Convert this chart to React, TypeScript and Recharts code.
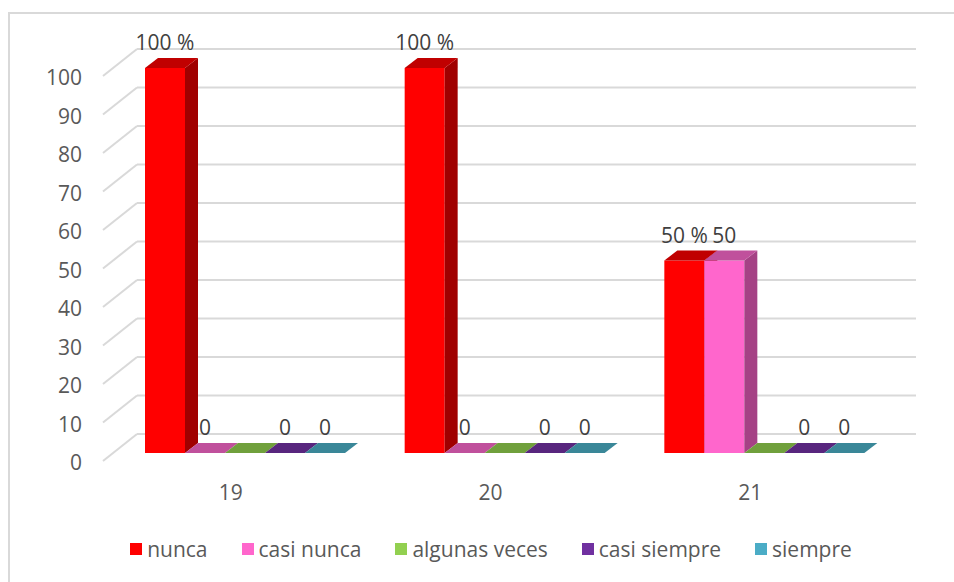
import React from "react"
import { BarChart, Bar, XAxis, YAxis, CartesianGrid, Legend, LabelList } from "recharts"

const categories = ["19", "20", "21"]
const nunca = [100, 100, 50]
const casiNunca = [0, 0, 50]
const algunasVeces = [0, 0, 0]
const casiSiempre = [0, 0, 0]
const siempre = [0, 0, 0]

const nuncaLabels = ["100 %", "100 %", "50 %"]
const casiNuncaLabels = ["0", "0", "50"]
const algunasVecesLabels = ["", "", ""]
const casiSiempreLabels = ["0", "0", "0"]
const siempreLabels = ["0", "0", "0"]

const yTicks = [0, 10, 20, 30, 40, 50, 60, 70, 80, 90, 100]

const series = [
  { key: "nunca", name: "nunca", values: nunca, labels: nuncaLabels, color: "#FF0000", top: "#C00000", side: "#A00000" },
  { key: "casiNunca", name: "casi nunca", values: casiNunca, labels: casiNuncaLabels, color: "#FF66CC", top: "#C0509C", side: "#A54285" },
  { key: "algunasVeces", name: "algunas veces", values: algunasVeces, labels: algunasVecesLabels, color: "#92D050", top: "#70A03C", side: "#5F8A34" },
  { key: "casiSiempre", name: "casi siempre", values: casiSiempre, labels: casiSiempreLabels, color: "#7030A0", top: "#58267E", side: "#4A206A" },
  { key: "siempre", name: "siempre", values: siempre, labels: siempreLabels, color: "#4BACC6", top: "#3A8798", side: "#317283" },
]

const data = categories.map((name, i) => {
  const row: any = { name }
  series.forEach((s) => {
    row[s.key] = s.values[i]
    row[s.key + "Label"] = s.labels[i]
  })
  return row
})

const FONT = "'Open Sans', sans-serif"
const PLOT_LEFT = 115
const PLOT_BOTTOM = 453
// bar depth
const BDX = 13
const BDY = 10
// back wall offset from the bar plane
const WDX = 22
const WDY = 19

function Box3D(props: any) {
  const { x, y, width, height, colors } = props
  const w = width
  const h = height
  const topFace = `${x},${y} ${x + BDX},${y - BDY} ${x + w + BDX},${y - BDY} ${x + w},${y}`
  const sideFace = `${x + w},${y} ${x + w + BDX},${y - BDY} ${x + w + BDX},${y + h - BDY} ${x + w},${y + h}`
  return (
    <g>
      {h > 0 && <rect x={x} y={y} width={w} height={h} fill={colors.color} />}
      {h > 0 && <polygon points={sideFace} fill={colors.side} />}
      <polygon points={topFace} fill={colors.top} />
    </g>
  )
}

function BarLabel(props: any) {
  const vb = props.viewBox || props
  const value = props.value
  if (value === undefined || value === null || value === "") return null
  return (
    <text
      x={vb.x + vb.width / 2}
      y={vb.y - 26}
      textAnchor="middle"
      dominantBaseline="central"
      fill="#404040"
      fontSize={21}
      fontFamily={FONT}
    >
      {value}
    </text>
  )
}

function YTick(props: any) {
  const { y, payload } = props
  return (
    <g>
      <line x1={PLOT_LEFT - 12} y1={y + 8} x2={PLOT_LEFT + WDX} y2={y - WDY} stroke="#d9d9d9" strokeWidth={2} />
      <text x={PLOT_LEFT - 33} y={y + 9} textAnchor="end" dominantBaseline="central" fill="#595959" fontSize={21} fontFamily={FONT}>
        {payload.value}
      </text>
    </g>
  )
}

function XTick(props: any) {
  const { x, payload } = props
  return (
    <text x={x - 14} y={PLOT_BOTTOM + 39} textAnchor="middle" dominantBaseline="central" fill="#595959" fontSize={21} fontFamily={FONT}>
      {payload.value}
    </text>
  )
}

function LegendContent() {
  return (
    <div style={{ display: "flex", justifyContent: "center", alignItems: "center", height: 40, gap: 34, fontFamily: FONT, fontSize: 21, color: "#595959" }}>
      {series.map((s) => (
        <div key={s.key} style={{ display: "flex", alignItems: "center" }}>
          <div style={{ width: 12, height: 12, background: s.color, marginRight: 5 }} />
          <span style={{ lineHeight: "40px", whiteSpace: "nowrap" }}>{s.name}</span>
        </div>
      ))}
    </div>
  )
}

export default function App() {
  return (
    <div>
      <div
        style={{
          position: "absolute",
          left: 8,
          top: 12,
          width: 944,
          height: 568,
          borderTop: "2px solid #d9d9d9",
          borderLeft: "2px solid #d9d9d9",
          background: "#fff",
        }}
      />
      <div style={{ position: "absolute", left: 0, top: 0, width: 954, height: 582 }}>
        <BarChart
          width={954}
          height={582}
          data={data}
          margin={{ top: 68, right: 60, left: 55, bottom: 59 }}
          barGap={0}
          barSize={40}
        >
          <CartesianGrid
            vertical={false}
            horizontal={(p: any) => (
              <line x1={p.x1 + WDX} y1={p.y1 - WDY} x2={p.x2 + WDX} y2={p.y2 - WDY} stroke="#d9d9d9" strokeWidth={2} />
            )}
          />
          <XAxis dataKey="name" axisLine={false} tickLine={false} height={30} tick={<XTick />} interval={0} />
          <YAxis domain={[0, 100]} ticks={yTicks} axisLine={false} tickLine={false} width={60} tick={<YTick />} interval={0} />
          <Legend
            verticalAlign="bottom"
            content={<LegendContent />}
            wrapperStyle={{ top: 529, left: 101, width: 780, height: 40 }}
          />
          {series.map((s) => (
            <Bar
              key={s.key}
              dataKey={s.key}
              name={s.name}
              fill={s.color}
              isAnimationActive={false}
              shape={(p: any) => <Box3D {...p} colors={s} />}
            >
              <LabelList dataKey={s.key + "Label"} content={<BarLabel />} />
            </Bar>
          ))}
        </BarChart>
      </div>
    </div>
  )
}
